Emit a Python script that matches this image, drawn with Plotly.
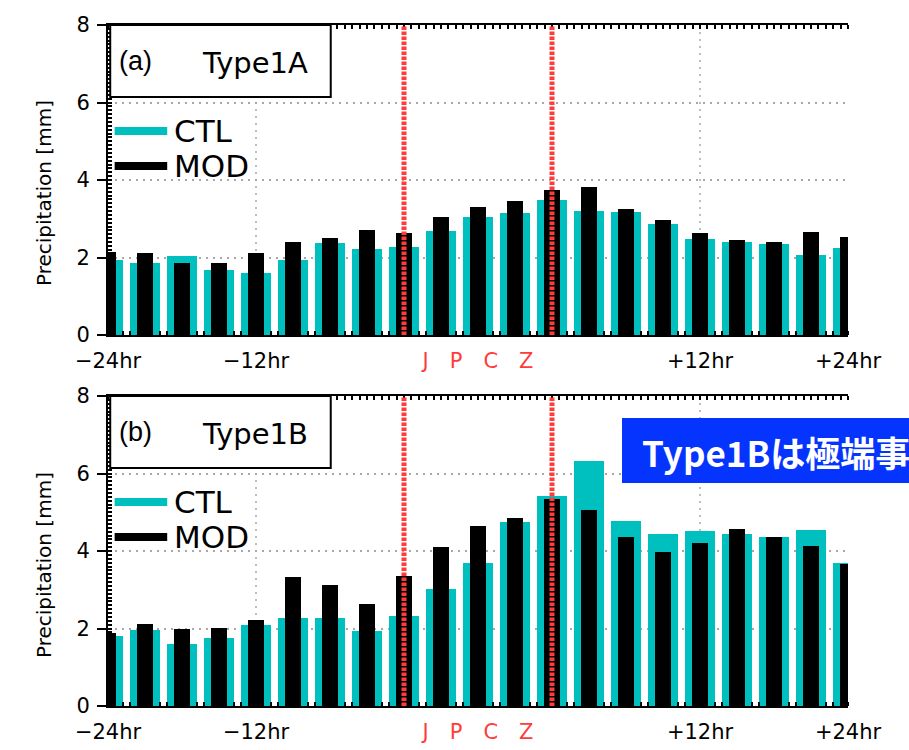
import plotly.graph_objects as go

# ---------------- data ----------------
steps = list(range(21))  # 3-hourly composite time steps (JPCZ start = 8, end = 12)
tick_pos = [0, 4, 10, 16, 20]
tick_text = ["\u221224hr", "\u221212hr", "JPCZ", "+12hr", "+24hr"]
grid_x = [4, 16]
jpcz_bounds = [8, 12]

ctl_a = [1.93, 1.86, 2.03, 1.68, 1.60, 1.93, 2.37, 2.21, 2.27, 2.69, 3.05,
         3.14, 3.48, 3.20, 3.17, 2.87, 2.48, 2.39, 2.36, 2.07, 2.25]
mod_a = [2.13, 2.11, 1.86, 1.86, 2.12, 2.40, 2.50, 2.71, 2.64, 3.05, 3.31,
         3.45, 3.73, 3.82, 3.24, 2.98, 2.63, 2.45, 2.39, 2.67, 2.53]
ctl_b = [1.80, 1.95, 1.61, 1.76, 2.08, 2.27, 2.27, 1.93, 2.32, 3.02, 3.68,
         4.74, 5.43, 6.32, 4.78, 4.45, 4.52, 4.43, 4.37, 4.54, 3.69]
mod_b = [1.88, 2.12, 1.98, 2.01, 2.21, 3.34, 3.11, 2.63, 3.35, 4.11, 4.64,
         4.84, 5.33, 5.07, 4.37, 3.98, 4.21, 4.57, 4.36, 4.14, 3.67]

panels = [("(a)", "Type1A", ctl_a, mod_a), ("(b)", "Type1B", ctl_b, mod_b)]
series_names = ["CTL", "MOD"]
y_title = "Precipitation [mm]"
banner_text = "Type1Bは極端事"

# ---------------- style ----------------
CYAN = "#00BFBF"
BLACK = "#000000"
RED = "#FF3B3B"
GRID = "#A8A8A8"
FONT = "DejaVu Sans"

W, H = 909, 750
L, R, T, B = 108, 61, 25, 44
ph = H - T - B
panel_px = 310
dom_b = [0, panel_px / ph]
dom_a = [1 - panel_px / ph, 1]


def px2x(px):
    return (px - L) / (W - L - R)


def px2y(py):
    return (H - B - py) / ph


fig = go.Figure()

ticktext_fmt = [
    f"<span style='color:{RED}'>J\u2003P\u2003C\u2003Z</span>" if t == "JPCZ" else t
    for t in tick_text
]

shapes = []
annotations = []
title_centers = [193, 565]

for i, (lab, typ, ctl, mod) in enumerate(panels):
    xa = "x" if i == 0 else "x2"
    ya = "y" if i == 0 else "y2"
    fig.add_trace(go.Bar(x=steps, y=ctl, name=series_names[0], marker_color=CYAN,
                         marker_line_width=0, width=0.81, xaxis=xa, yaxis=ya,
                         showlegend=False))
    fig.add_trace(go.Bar(x=steps, y=mod, name=series_names[1], marker_color=BLACK,
                         marker_line_width=0, width=0.41, xaxis=xa, yaxis=ya,
                         showlegend=False))
    xref = xa
    ydom = ya + " domain"
    xdom = xa + " domain"
    # vertical grid lines at -12hr/+12hr
    for gx in grid_x:
        shapes.append(dict(type="line", xref=xref, yref=ydom, x0=gx, x1=gx, y0=0, y1=1,
                           line=dict(color=GRID, width=1.5, dash="2px,5px"), layer="below"))
    # JPCZ start/end red dotted lines
    for jx in jpcz_bounds:
        shapes.append(dict(type="line", xref=xref, yref=ydom, x0=jx, x1=jx, y0=0, y1=1,
                           line=dict(color=RED, width=5, dash="3.5px,1.5px"), layer="above"))
    # title box
    shapes.append(dict(type="rect", xref=xdom, yref=ydom, x0=0.003, x1=0.301, y0=0.768, y1=1,
                       line=dict(color=BLACK, width=2), fillcolor="white", layer="above"))
    annotations.append(dict(xref=xdom, yref=ydom, x=0.012, y=0.884, xanchor="left",
                            yanchor="middle", text=lab, showarrow=False,
                            font=dict(family="Liberation Sans", size=27, color=BLACK)))
    annotations.append(dict(xref=xdom, yref=ydom, x=0.124, y=0.878, xanchor="left",
                            yanchor="middle", text=typ, showarrow=False,
                            font=dict(family=FONT, size=29, color=BLACK)))
    # legend
    for j, (nm, col, yy) in enumerate([(series_names[0], CYAN, 0.658),
                                        (series_names[1], BLACK, 0.545)]):
        shapes.append(dict(type="line", xref=xdom, yref=ydom, x0=0.009, x1=0.080,
                           y0=yy, y1=yy, line=dict(color=col, width=8), layer="above"))
        annotations.append(dict(xref=xdom, yref=ydom, x=0.086, y=yy, xanchor="left",
                                yanchor="middle", text=nm, showarrow=False,
                                font=dict(family=FONT, size=31, color=BLACK)))
    # y-axis title
    annotations.append(dict(xref="paper", yref="paper", x=px2x(44), y=px2y(title_centers[i]),
                            xanchor="center", yanchor="middle", textangle=-90,
                            text=y_title, showarrow=False,
                            font=dict(family=FONT, size=20, color=BLACK)))

# blue banner (paper coords)
shapes.append(dict(type="rect", xref="paper", yref="paper", x0=px2x(622), x1=px2x(930),
                   y0=px2y(483), y1=px2y(418), fillcolor="#0634FF",
                   line=dict(width=0), layer="above"))
annotations.append(dict(xref="paper", yref="paper", x=px2x(640), y=px2y(451),
                        xanchor="left", yanchor="middle", text=banner_text, showarrow=False,
                        font=dict(family="Noto Sans CJK JP", size=35, color="white",
                                  weight="bold")))

xcommon = dict(range=[0, 20], tickmode="array", tickvals=tick_pos, ticktext=ticktext_fmt,
               ticks="", showgrid=False, zeroline=False, showline=True, linecolor=BLACK,
               linewidth=2, mirror="allticks", automargin=False,
               tickfont=dict(family=FONT, size=21, color=BLACK), ticklabelstandoff=6,
               minor=dict(ticks="inside", ticklen=4, tickwidth=1.5, tickcolor=BLACK,
                          tick0=0, dtick=0.2, showgrid=False))
ycommon = dict(range=[0, 8], tickmode="array", tickvals=[0, 2, 4, 6, 8], ticks="outside",
               ticklen=9, tickwidth=1.5, tickcolor=BLACK, showgrid=True, gridcolor=GRID,
               gridwidth=1.5, griddash="2px,5px", zeroline=False, showline=True,
               linecolor=BLACK, linewidth=2, mirror=False, automargin=False,
               tickfont=dict(family=FONT, size=21, color=BLACK), ticklabelstandoff=3,
               minor=dict(ticks="inside", ticklen=4, tickwidth=1.5, tickcolor=BLACK,
                          tick0=0, dtick=0.1, showgrid=False))
yright = dict(range=[0, 8], showticklabels=False, ticks="", showgrid=False, zeroline=False,
              showline=True, linecolor=BLACK, linewidth=2, side="right", automargin=False,
              minor=dict(ticks="inside", ticklen=4, tickwidth=1.5, tickcolor=BLACK,
                         tick0=0, dtick=0.1, showgrid=False))

fig.update_layout(
    width=W, height=H,
    margin=dict(l=L, r=R, t=T, b=B, autoexpand=False),
    paper_bgcolor="white", plot_bgcolor="white",
    barmode="overlay", bargap=0,
    showlegend=False,
    xaxis=dict(anchor="y", domain=[0, 1], **xcommon),
    yaxis=dict(anchor="x", domain=dom_a, **ycommon),
    xaxis2=dict(anchor="y2", domain=[0, 1], **xcommon),
    yaxis2=dict(anchor="x2", domain=dom_b, **ycommon),
    yaxis3=dict(anchor="x", overlaying="y", **yright),
    yaxis4=dict(anchor="x2", overlaying="y2", **yright),
    shapes=shapes,
    annotations=annotations,
)

# remove the default page margin so the figure sits at the window's top-left corner
fig.write_html("out.html", config={"displayModeBar": False},
               post_script="document.body.style.margin='0';")
